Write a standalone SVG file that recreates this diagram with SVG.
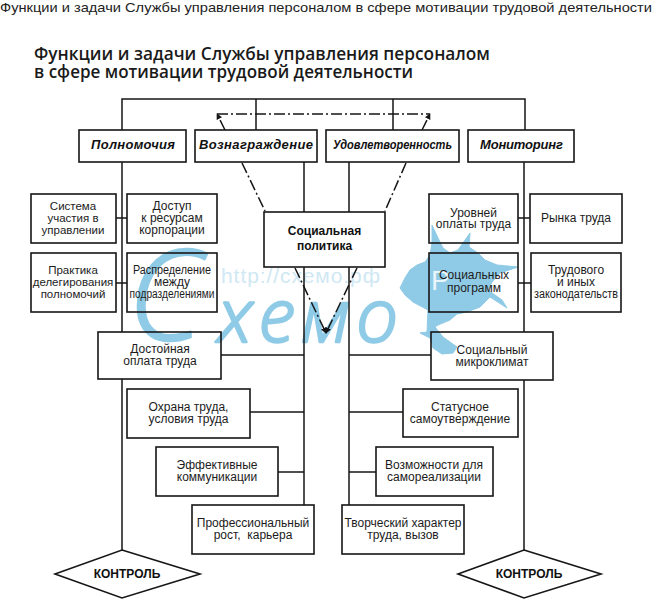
<svg xmlns="http://www.w3.org/2000/svg" width="654" height="600" viewBox="0 0 654 600">
<defs>
<style>
.box{fill:none;stroke:#161616;stroke-width:1.6}
.ln{fill:none;stroke:#161616;stroke-width:1.5}
.dd{fill:none;stroke:#161616;stroke-width:1.5;stroke-dasharray:11 3 2 3}
.t{font-family:"Liberation Sans",Arial,sans-serif;font-size:12px;fill:#1c1c1c;text-anchor:middle}
.s{font-family:"Liberation Sans",Arial,sans-serif;font-size:11.5px;fill:#1c1c1c;text-anchor:middle}
.hd{font-family:"Liberation Sans",Arial,sans-serif;font-size:13px;font-weight:bold;font-style:italic;fill:#111;text-anchor:middle}
.b{font-family:"Liberation Sans",Arial,sans-serif;font-size:12px;font-weight:bold;fill:#111;text-anchor:middle}
.wm{font-family:"Open Sans",sans-serif;font-weight:300;font-style:italic;fill:#8fcbe6;stroke:#8fcbe6;stroke-width:2.5;stroke-linejoin:round}
</style>
<marker id="tip" viewBox="0 0 8 8" refX="7" refY="4" markerWidth="6" markerHeight="6" markerUnits="userSpaceOnUse" orient="auto"><path d="M0 0L8 4L0 8Z" fill="#161616"/></marker>
</defs>
<rect width="654" height="600" fill="#fff"/>
<text x="0" y="12" font-family="'Liberation Sans',Arial,sans-serif" font-size="13" fill="#222" textLength="652" lengthAdjust="spacingAndGlyphs">Функции и задачи Службы управления персоналом в сфере мотивации трудовой деятельности</text>
<g font-family="'Open Sans',sans-serif" font-size="18" font-weight="600" fill="#1a1a1a">
<text x="34" y="60" textLength="456" lengthAdjust="spacingAndGlyphs">Функции и задачи Службы управления персоналом</text>
<text x="34" y="78" textLength="379" lengthAdjust="spacingAndGlyphs">в сфере мотивации трудовой деятельности</text>
</g>
<g id="watermark">
<path fill="#8fcbe6" stroke="#8fcbe6" stroke-linejoin="round" d="M432 225L438 238L443 248L450 253L458 250L470 233L469 247L478 253L485 260L497 265L518 267L500 273L492 282L488 290L502 300L507 308L490 297L480 307L467 312L457 314L450 320L438 325L435 327L443 337L457 347L453 353L442 354L433 348L430 338L420 333L427 332L428 310L413 302L405 295L400 288L405 278L410 270L417 265L425 262L430 255L432 243Z"/>
<text x="431" y="290" font-family="'Liberation Sans',sans-serif" font-size="28" fill="#e9f5fb">Р</text>
<text x="221" y="283" font-family="'Liberation Sans',sans-serif" font-size="21" fill="#cfe8f3" textLength="159">http://схемо.рф</text>
<text class="wm" x="128" y="340" font-size="125">С</text>
<text class="wm" x="218" y="342" font-size="74" textLength="180" lengthAdjust="spacing">хемо</text>
</g>
<g id="connectors">
<path class="ln" d="M122 130V99H525V130M256 99V130M393 99V130"/>
<path class="ln" d="M122 162V332M122 379V550M524 162V332M524 380V550"/>
<path class="ln" d="M304 162V212M349 162V212M304 267V505M349 267V505"/>
<path class="ln" d="M116 218H127M116 283H127M518 218H530M518 283H531"/>
<path class="ln" d="M221 355H304M250 412H304M278 472H304M349 355H431M349 412H403M349 472H376"/>
<path class="dd" d="M225 130L217 114" marker-end="url(#tip)"/>
<path class="dd" d="M422 130L430 114" marker-end="url(#tip)"/>
<path class="dd" d="M217 114H430"/>
<path class="dd" d="M242 163L265 211M406 163L385 211"/>
<path class="dd" d="M295 268L326 333" marker-end="url(#tip)"/>
<path class="dd" d="M357 268L326 333" marker-end="url(#tip)"/>
</g>
<g id="n-polnomochiya"><rect class="box" x="79" y="130" width="107" height="32"/><text class="hd" x="133" y="149" textLength="84" lengthAdjust="spacing">Полномочия</text></g>
<g id="n-voznagrazhdenie"><rect class="box" x="195" y="130" width="122" height="32"/><text class="hd" x="256" y="149" textLength="114" lengthAdjust="spacing">Вознаграждение</text></g>
<g id="n-udovletvorennost"><rect class="box" x="326" y="130" width="133" height="32"/><text class="hd" x="392.500" y="149" textLength="119" lengthAdjust="spacingAndGlyphs">Удовлетворенность</text></g>
<g id="n-monitoring"><rect class="box" x="468" y="130" width="106" height="32"/><text class="hd" x="521.500" y="149" textLength="83" lengthAdjust="spacing">Мониторинг</text></g>
<g id="n-sistema"><rect class="box" x="31" y="194" width="85" height="49"/><text class="s" x="73" y="210">Система</text><text class="s" x="73" y="222">участия в</text><text class="s" x="73" y="234">управлении</text></g>
<g id="n-dostup"><rect class="box" x="127" y="194" width="90" height="49"/><text class="t" x="172" y="210">Доступ</text><text class="t" x="172" y="222">к ресурсам</text><text class="t" x="172" y="234">корпорации</text></g>
<g id="n-praktika"><rect class="box" x="31" y="253" width="85" height="59"/><text class="s" x="73" y="274">Практика</text><text class="s" x="73" y="286">делегирования</text><text class="s" x="73" y="298">полномочий</text></g>
<g id="n-raspredelenie"><rect class="box" x="127" y="253" width="90" height="59"/><text class="t" x="172" y="274" textLength="78" lengthAdjust="spacingAndGlyphs">Распределение</text><text class="t" x="172" y="286">между</text><text class="t" x="172" y="298" textLength="85" lengthAdjust="spacingAndGlyphs">подразделениями</text></g>
<g id="n-politika"><rect class="box" x="264" y="212" width="121" height="55"/><text class="b" x="324.500" y="235">Социальная</text><text class="b" x="324.500" y="250">политика</text></g>
<g id="n-urovney"><rect class="box" x="429" y="194" width="89" height="49"/><text class="t" x="473.500" y="217">Уровней</text><text class="t" x="473.500" y="228">оплаты труда</text></g>
<g id="n-rynka"><rect class="box" x="530" y="194" width="92" height="49"/><text class="t" x="576" y="222">Рынка труда</text></g>
<g id="n-programm"><rect class="box" x="429" y="253" width="89" height="59"/><text class="t" x="474" y="279">Социальных</text><text class="t" x="474" y="292">программ</text></g>
<g id="n-trudovogo"><rect class="box" x="531" y="253" width="90" height="59"/><text class="t" x="576" y="274">Трудового</text><text class="t" x="576" y="286">и иных</text><text class="t" x="576" y="298" textLength="84" lengthAdjust="spacingAndGlyphs">законодательств</text></g>
<g id="n-oplata"><rect class="box" x="98" y="332" width="123" height="47"/><text class="t" x="160" y="353">Достойная</text><text class="t" x="160" y="365">оплата труда</text></g>
<g id="n-ohrana"><rect class="box" x="127" y="389" width="123" height="49"/><text class="t" x="188.500" y="411">Охрана труда,</text><text class="t" x="188.500" y="423">условия труда</text></g>
<g id="n-effektivnye"><rect class="box" x="156" y="447" width="122" height="49"/><text class="t" x="217" y="469">Эффективные</text><text class="t" x="217" y="481">коммуникации</text></g>
<g id="n-rost"><rect class="box" x="192" y="505" width="122" height="49"/><text class="t" x="253" y="527">Профессиональный</text><text class="t" x="253" y="539" style="white-space:pre">рост,  карьера</text></g>
<g id="n-mikroklimat"><rect class="box" x="431" y="332" width="122" height="48"/><text class="t" x="492" y="354">Социальный</text><text class="t" x="492" y="366">микроклимат</text></g>
<g id="n-status"><rect class="box" x="403" y="389" width="115" height="48"/><text class="t" x="460" y="411">Статусное</text><text class="t" x="460" y="423">самоутверждение</text></g>
<g id="n-samorealizatsiya"><rect class="box" x="376" y="447" width="117" height="49"/><text class="t" x="434" y="469">Возможности для</text><text class="t" x="434" y="481">самореализации</text></g>
<g id="n-tvorchesky"><rect class="box" x="342" y="505" width="122" height="49"/><text class="t" x="403" y="527">Творческий характер</text><text class="t" x="403" y="539">труда, вызов</text></g>
<g id="n-kontrol-l"><path class="box" d="M122 550L200 574L122 598L55 574Z"/><text class="b" x="127" y="578">КОНТРОЛЬ</text></g>
<g id="n-kontrol-r"><path class="box" d="M524 550L601 574L524 598L458 574Z"/><text class="b" x="529" y="578">КОНТРОЛЬ</text></g>
</svg>
